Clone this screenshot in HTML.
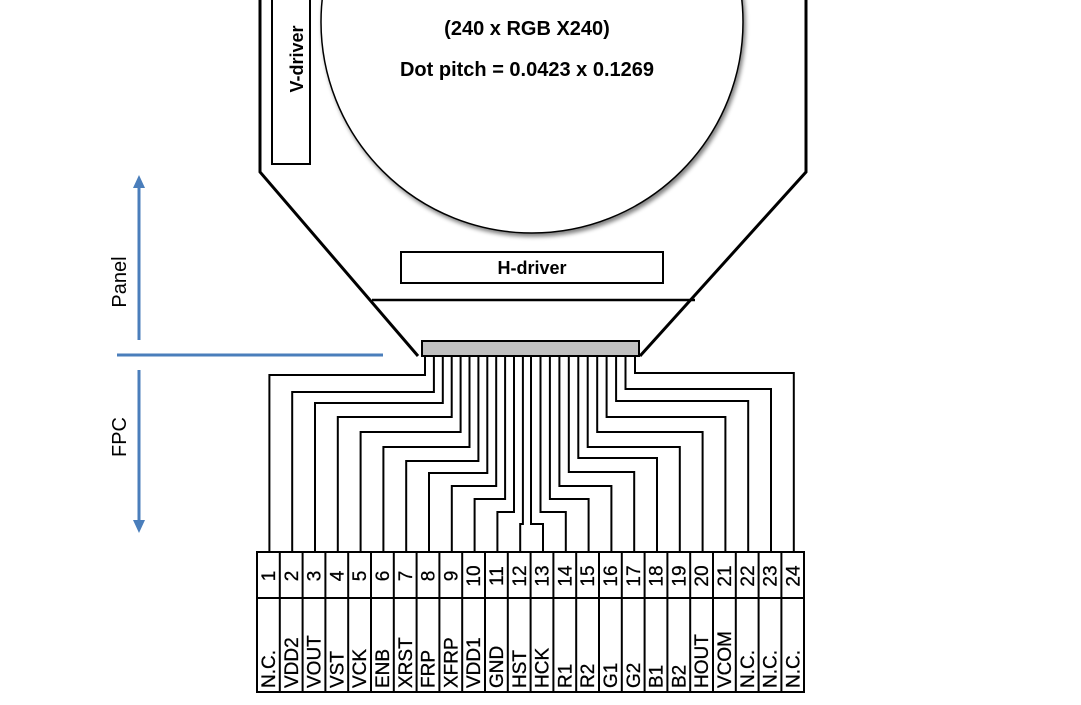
<!DOCTYPE html>
<html><head><meta charset="utf-8"><style>
html,body{margin:0;padding:0;background:#fff;}
svg{display:block;font-family:"Liberation Sans",Arial,sans-serif;}
</style></head><body>
<svg width="1081" height="705" viewBox="0 0 1081 705" xmlns="http://www.w3.org/2000/svg">
<defs>
<filter id="sh" x="-10%" y="-10%" width="130%" height="130%"><feGaussianBlur in="SourceAlpha" stdDeviation="2"/><feOffset dx="2" dy="3"/><feComponentTransfer><feFuncA type="linear" slope="0.5"/></feComponentTransfer><feMerge><feMergeNode/><feMergeNode in="SourceGraphic"/></feMerge></filter>
</defs>
<path d="M260,0 V172 L418,356 M806,0 V172 L640,356" fill="none" stroke="#000" stroke-width="3"/>
<line x1="372" y1="300" x2="695" y2="300" stroke="#000" stroke-width="2.5"/>
<circle cx="532" cy="22" r="211" fill="#fff" stroke="#000" stroke-width="1.5" filter="url(#sh)"/>
<rect x="272" y="-2" width="38" height="166" fill="#fff" stroke="#000" stroke-width="2"/>
<text transform="translate(303,59) rotate(-90)" font-size="18" font-weight="bold" text-anchor="middle">V-driver</text>
<text x="527" y="35" font-size="20" font-weight="bold" text-anchor="middle">(240 x RGB X240)</text>
<text x="527" y="76" font-size="20" font-weight="bold" text-anchor="middle">Dot pitch = 0.0423 x 0.1269</text>
<rect x="401" y="252" width="262" height="31" fill="#fff" stroke="#000" stroke-width="2"/>
<text x="532" y="274" font-size="18" font-weight="bold" text-anchor="middle">H-driver</text>
<g fill="none" stroke="#000" stroke-width="2">
<path d="M425,356V375H269.4V552"/>
<path d="M433.9,356V392H292.2V552"/>
<path d="M442.8,356V403H315V552"/>
<path d="M451.7,356V417H337.8V552"/>
<path d="M460.6,356V432H360.6V552"/>
<path d="M469.5,356V447H383.4V552"/>
<path d="M478.4,356V461H406.2V552"/>
<path d="M487.3,356V473H429V552"/>
<path d="M496.2,356V486H451.8V552"/>
<path d="M505.1,356V499H474.6V552"/>
<path d="M514,356V512H497.4V552"/>
<path d="M522.9,356V524H520.2V552"/>
<path d="M531,356V524H543V552"/>
<path d="M540.5,356V512H565.8V552"/>
<path d="M549.9,356V499H588.6V552"/>
<path d="M559.4,356V486H611.4V552"/>
<path d="M568.8,356V472H634.2V552"/>
<path d="M578.3,356V458H657V552"/>
<path d="M587.7,356V447H679.8V552"/>
<path d="M597.2,356V432H702.6V552"/>
<path d="M606.6,356V417H725.4V552"/>
<path d="M616.1,356V401H748.2V552"/>
<path d="M625.5,356V389H771V552"/>
<path d="M635,356V373H793.8V552"/>
</g>
<rect x="422" y="341" width="217" height="15" fill="#c0c0c0" stroke="#000" stroke-width="2"/>
<g stroke="#4a7ebb" stroke-width="3" fill="#4a7ebb">
<line x1="139" y1="186" x2="139" y2="340"/>
<line x1="117" y1="355" x2="383" y2="355"/>
<line x1="139" y1="370" x2="139" y2="522"/>
<path d="M133,188 L139,175 L145,188 Z" stroke="none"/>
<path d="M133,520 L139,533 L145,520 Z" stroke="none"/>
</g>
<text transform="translate(126,282) rotate(-90)" font-size="20" text-anchor="middle">Panel</text>
<text transform="translate(126,437) rotate(-90)" font-size="20" text-anchor="middle">FPC</text>
<g fill="none" stroke="#000" stroke-width="2">
<rect x="257" y="552" width="547" height="140"/>
<line x1="257" y1="598" x2="804" y2="598"/>
<path d="M279.8,552V692M302.6,552V692M325.4,552V692M348.2,552V692M371,552V692M393.8,552V692M416.6,552V692M439.4,552V692M462.2,552V692M485,552V692M507.8,552V692M530.6,552V692M553.4,552V692M576.2,552V692M599,552V692M621.8,552V692M644.6,552V692M667.4,552V692M690.2,552V692M713,552V692M735.8,552V692M758.6,552V692M781.4,552V692"/>
</g>
<g font-size="19" text-anchor="middle" stroke="#000" stroke-width="0.3">
<text transform="translate(275,576) rotate(-90)">1</text>
<text transform="translate(297.8,576) rotate(-90)">2</text>
<text transform="translate(320.6,576) rotate(-90)">3</text>
<text transform="translate(343.4,576) rotate(-90)">4</text>
<text transform="translate(366.2,576) rotate(-90)">5</text>
<text transform="translate(389,576) rotate(-90)">6</text>
<text transform="translate(411.8,576) rotate(-90)">7</text>
<text transform="translate(434.6,576) rotate(-90)">8</text>
<text transform="translate(457.4,576) rotate(-90)">9</text>
<text transform="translate(480.2,576) rotate(-90)">10</text>
<text transform="translate(503,576) rotate(-90)">11</text>
<text transform="translate(525.8,576) rotate(-90)">12</text>
<text transform="translate(548.6,576) rotate(-90)">13</text>
<text transform="translate(571.4,576) rotate(-90)">14</text>
<text transform="translate(594.2,576) rotate(-90)">15</text>
<text transform="translate(617,576) rotate(-90)">16</text>
<text transform="translate(639.8,576) rotate(-90)">17</text>
<text transform="translate(662.6,576) rotate(-90)">18</text>
<text transform="translate(685.4,576) rotate(-90)">19</text>
<text transform="translate(708.2,576) rotate(-90)">20</text>
<text transform="translate(731,576) rotate(-90)">21</text>
<text transform="translate(753.8,576) rotate(-90)">22</text>
<text transform="translate(776.6,576) rotate(-90)">23</text>
<text transform="translate(799.4,576) rotate(-90)">24</text>
</g>
<g font-size="19" text-anchor="start" stroke="#000" stroke-width="0.3">
<text transform="translate(275,688) rotate(-90)">N.C.</text>
<text transform="translate(297.8,688) rotate(-90)">VDD2</text>
<text transform="translate(320.6,688) rotate(-90)">VOUT</text>
<text transform="translate(343.4,688) rotate(-90)">VST</text>
<text transform="translate(366.2,688) rotate(-90)">VCK</text>
<text transform="translate(389,688) rotate(-90)">ENB</text>
<text transform="translate(411.8,688) rotate(-90)">XRST</text>
<text transform="translate(434.6,688) rotate(-90)">FRP</text>
<text transform="translate(457.4,688) rotate(-90)">XFRP</text>
<text transform="translate(480.2,688) rotate(-90)">VDD1</text>
<text transform="translate(503,688) rotate(-90)">GND</text>
<text transform="translate(525.8,688) rotate(-90)">HST</text>
<text transform="translate(548.6,688) rotate(-90)">HCK</text>
<text transform="translate(571.4,688) rotate(-90)">R1</text>
<text transform="translate(594.2,688) rotate(-90)">R2</text>
<text transform="translate(617,688) rotate(-90)">G1</text>
<text transform="translate(639.8,688) rotate(-90)">G2</text>
<text transform="translate(662.6,688) rotate(-90)">B1</text>
<text transform="translate(685.4,688) rotate(-90)">B2</text>
<text transform="translate(708.2,688) rotate(-90)">HOUT</text>
<text transform="translate(731,688) rotate(-90)">VCOM</text>
<text transform="translate(753.8,688) rotate(-90)">N.C.</text>
<text transform="translate(776.6,688) rotate(-90)">N.C.</text>
<text transform="translate(799.4,688) rotate(-90)">N.C.</text>
</g>
</svg>
</body></html>
